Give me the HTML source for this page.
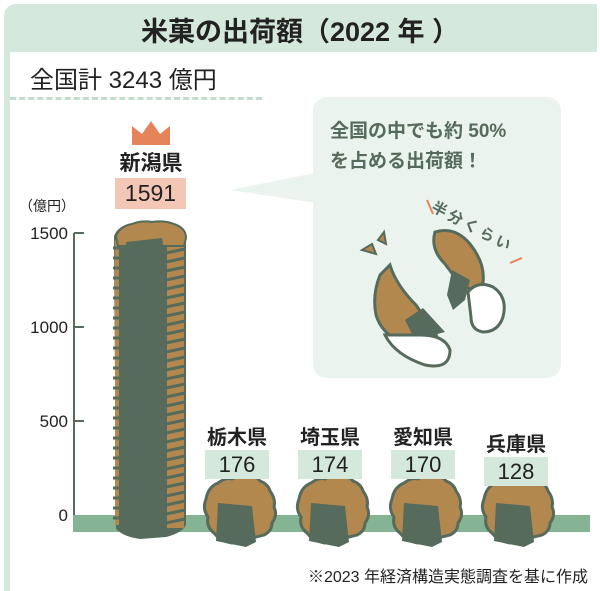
<!DOCTYPE html>
<html><head><meta charset="utf-8"><style>
body{margin:0;width:600px;height:591px;overflow:hidden;background:#fff;font-family:"Liberation Sans","Noto Sans CJK JP",sans-serif;}
.t{position:absolute;white-space:nowrap;}
</style></head><body>
<div style="position:relative;width:600px;height:591px;">
<div style="position:absolute;left:4px;top:4px;width:593px;height:48px;background:#d5e8dc;border-top-left-radius:12px;"></div>
<div style="position:absolute;left:4px;top:52px;width:6px;height:539px;background:#d5e8dc;"></div>
<div class="t" style="left:0;width:600px;text-align:center;top:10px;font-size:27px;font-weight:bold;color:#222;">米菓の出荷額（2022 年 ）</div>
<div class="t" style="left:30px;top:60px;font-size:24px;color:#222;">全国計 3243 億円</div>
<div style="position:absolute;left:10px;top:97px;width:252px;border-top:3px dashed #c4dccd;"></div>
<svg width="600" height="591" style="position:absolute;left:0;top:0">
<defs>
<g id="cr">
<path d="M-34,-8 q2,-12 12,-16 q8,-6 14,-4 q8,-5 14,-2 q10,-2 14,4 q8,3 10,10 q6,8 4,16 q4,8 -2,16 q0,8 -8,12 l-32,8 q-12,-2 -18,-10 q-8,-6 -6,-16 q-6,-8 -2,-18z" fill="#b3884f" stroke="#566b5c" stroke-width="3"/>
<path d="M-22,-4 l34,3 l4,36 l-10,5 l-30,-6z" fill="#566b5c"/>
</g>
</defs>
<path d="M230,190 L330,170 L330,205 Z" fill="#eaf3ee"/>
<rect x="313" y="97" width="248" height="281" rx="14" fill="#eaf3ee"/>
<line x1="74" y1="233" x2="74" y2="515" stroke="#566b5c" stroke-width="2"/>
<g stroke="#566b5c" stroke-width="2"><line x1="74" y1="233" x2="84" y2="233"/><line x1="74" y1="327" x2="84" y2="327"/><line x1="74" y1="421" x2="84" y2="421"/></g>
<rect x="73" y="515" width="517" height="17" fill="#84b494"/>
<!-- tall stack -->
<path d="M114,236 q4,-10 16,-12 q10,-4 20,-2 q12,-2 22,2 q12,4 14,14 L186,525 q-4,8 -20,12 l-26,2 q-16,-2 -24,-10 Z" fill="#566b5c"/>
<rect x="167" y="238" width="17" height="290" fill="#b3884f"/>
<g stroke="#566b5c" stroke-width="3">
<path d="M166,244 L185,240 M166,253 L185,249 M166,262 L185,258 M166,271 L185,267 M166,280 L185,276 M166,289 L185,285 M166,298 L185,294 M166,307 L185,303 M166,316 L185,312 M166,325 L185,321 M166,334 L185,330 M166,343 L185,339 M166,352 L185,348 M166,361 L185,357 M166,370 L185,366 M166,379 L185,375 M166,388 L185,384 M166,397 L185,393 M166,406 L185,402 M166,415 L185,411 M166,424 L185,420 M166,433 L185,429 M166,442 L185,438 M166,451 L185,447 M166,460 L185,456 M166,469 L185,465 M166,478 L185,474 M166,487 L185,483 M166,496 L185,492 M166,505 L185,501 M166,514 L185,510 M166,523 L185,519"/>
</g>
<g fill="#b3884f"><rect x="115" y="240" width="4" height="285"/></g>
<g stroke="#566b5c" stroke-width="3"><path d="M113,248 H121 M113,258 H121 M113,268 H121 M113,278 H121 M113,288 H121 M113,298 H121 M113,308 H121 M113,318 H121 M113,328 H121 M113,338 H121 M113,348 H121 M113,358 H121 M113,368 H121 M113,378 H121 M113,388 H121 M113,398 H121 M113,408 H121 M113,418 H121 M113,428 H121 M113,438 H121 M113,448 H121 M113,458 H121 M113,468 H121 M113,478 H121 M113,488 H121 M113,498 H121 M113,508 H121 M113,518 H121"/></g>
<path d="M116,236 q4,-10 16,-12 q10,-4 20,-2 q12,-2 22,2 q12,4 12,14 L184,246 L118,246 Z" fill="#b3884f" stroke="#566b5c" stroke-width="2"/>
<path d="M126,242 L162,238 L164,250 L126,250 Z" fill="#566b5c"/>
<use href="#cr" x="240" y="507"/>
<use href="#cr" x="333" y="507"/>
<use href="#cr" x="426" y="507"/>
<use href="#cr" x="518" y="507"/>
<!-- illustration -->
<path d="M380,275 q-8,20 -4,40 q6,20 30,30 l30,-10 l-20,-30 q-20,-20 -26,-40z" fill="#b3884f" stroke="#566b5c" stroke-width="3"/>
<path d="M405,320 l18,-12 l22,24 l-30,8z" fill="#566b5c"/>
<path d="M385,335 q10,20 40,30 q25,5 25,-15 q-5,-15 -30,-15z" fill="#fff" stroke="#566b5c" stroke-width="3"/>
<path d="M435,232 q20,-6 35,12 q20,25 10,50 l-20,-10 l-15,-20 q-15,-15 -10,-32z" fill="#b3884f" stroke="#566b5c" stroke-width="3"/>
<path d="M452,270 l18,10 l-5,20 l-12,10 l-6,-15z" fill="#566b5c"/>
<path d="M468,292 q10,-12 25,-5 q15,10 10,30 q-5,15 -20,15 q-12,-2 -12,-15z" fill="#fff" stroke="#566b5c" stroke-width="3"/>
<path d="M362,250 l10,-6 l4,10 z M378,240 l6,-8 l2,12z" fill="#b3884f" stroke="#566b5c" stroke-width="2"/>
<line x1="427" y1="200" x2="433" y2="214" stroke="#e5835a" stroke-width="2"/>
<line x1="510" y1="263" x2="522" y2="258" stroke="#e5835a" stroke-width="2"/>
<path d="M132,145 L132,126 L142,134 L151,121 L160,134 L170,126 L170,145 Z" fill="#e5835a"/>
</svg>
<div class="t" style="left:19px;top:196px;font-size:14px;color:#222;">（億円）</div>
<div class="t" style="left:0;width:68px;text-align:right;top:224px;font-size:17px;color:#222;">1500</div>
<div class="t" style="left:0;width:68px;text-align:right;top:318px;font-size:17px;color:#222;">1000</div>
<div class="t" style="left:0;width:68px;text-align:right;top:412px;font-size:17px;color:#222;">500</div>
<div class="t" style="left:0;width:68px;text-align:right;top:506px;font-size:17px;color:#222;">0</div>
<div class="t" style="left:112px;top:147px;width:78px;text-align:center;font-size:21px;font-weight:bold;color:#222;">新潟県</div>
<div class="t" style="left:115px;top:178px;width:71px;height:31px;line-height:31px;text-align:center;background:#f4c6b5;font-size:23px;color:#222;">1591</div>
<div class="t" style="left:202px;top:421px;width:70px;text-align:center;font-size:20px;font-weight:bold;color:#222;">栃木県</div>
<div class="t" style="left:295px;top:421px;width:70px;text-align:center;font-size:20px;font-weight:bold;color:#222;">埼玉県</div>
<div class="t" style="left:388px;top:421px;width:70px;text-align:center;font-size:20px;font-weight:bold;color:#222;">愛知県</div>
<div class="t" style="left:481px;top:428px;width:70px;text-align:center;font-size:20px;font-weight:bold;color:#222;">兵庫県</div>
<div class="t" style="left:205px;top:450px;width:64px;height:29px;line-height:29px;text-align:center;background:#d5e8dc;font-size:22px;color:#222;">176</div>
<div class="t" style="left:298px;top:450px;width:64px;height:29px;line-height:29px;text-align:center;background:#d5e8dc;font-size:22px;color:#222;">174</div>
<div class="t" style="left:391px;top:450px;width:64px;height:29px;line-height:29px;text-align:center;background:#d5e8dc;font-size:22px;color:#222;">170</div>
<div class="t" style="left:484px;top:457px;width:64px;height:29px;line-height:29px;text-align:center;background:#d5e8dc;font-size:22px;color:#222;">128</div>
<div class="t" style="left:330px;top:117px;font-size:19px;font-weight:bold;color:#566b5c;line-height:30px;">全国の中でも約 50%<br>を占める出荷額！</div>
<div class="t" style="left:438px;top:196px;font-size:15px;font-weight:bold;color:#566b5c;transform:rotate(28deg);transform-origin:left top;letter-spacing:3px;">半分くらい</div>
<div class="t" style="right:12px;top:563px;font-size:16px;color:#222;">※2023 年経済構造実態調査を基に作成</div>
</div>
</body></html>
